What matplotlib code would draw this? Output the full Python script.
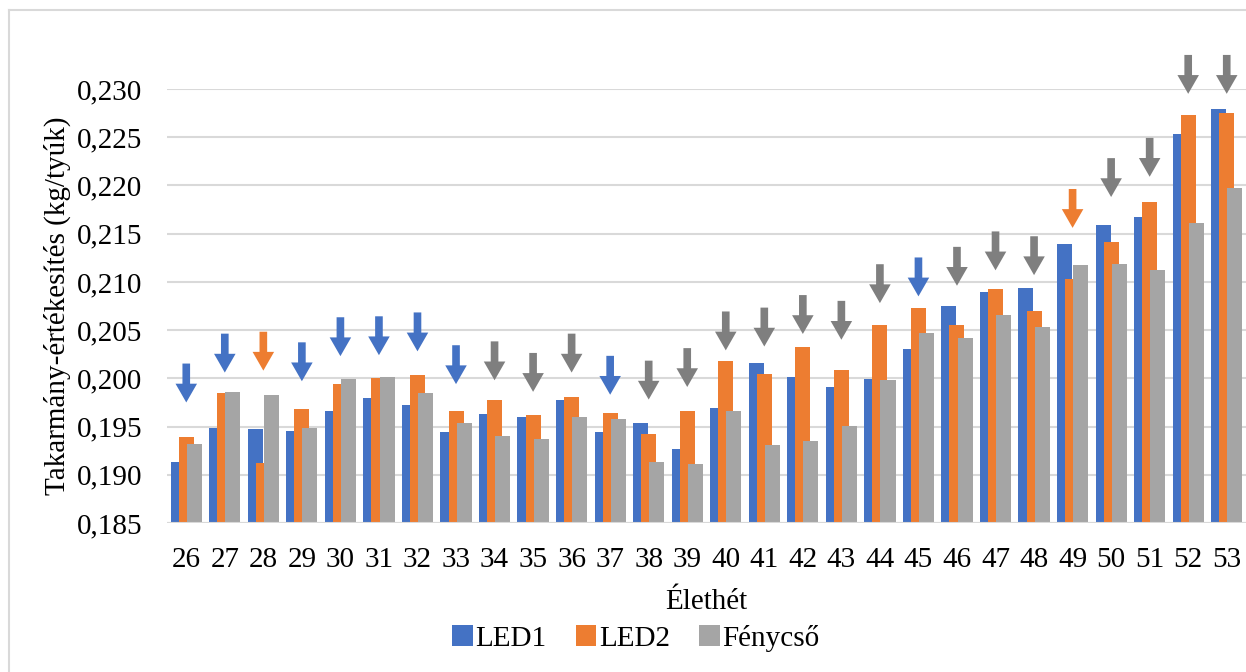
import numpy as np
import matplotlib
matplotlib.use('Agg')
import matplotlib.pyplot as plt
from matplotlib.ticker import FuncFormatter
from matplotlib.patches import Patch
from matplotlib import font_manager

# data
weeks = list(range(26, 54))
led1 = [0.1913, 0.1948, 0.1947, 0.1945, 0.1966, 0.1980, 0.1972, 0.1944, 0.1963, 0.1960,
        0.1978, 0.1944, 0.1954, 0.1927, 0.1969, 0.2016, 0.2001, 0.1991, 0.1999, 0.2030,
        0.2075, 0.2090, 0.2094, 0.2139, 0.2159, 0.2167, 0.2253, 0.2279]
led2 = [0.1939, 0.1985, 0.1912, 0.1968, 0.1994, 0.2000, 0.2003, 0.1966, 0.1978, 0.1962,
        0.1981, 0.1964, 0.1942, 0.1966, 0.2018, 0.2004, 0.2032, 0.2009, 0.2055, 0.2073,
        0.2055, 0.2093, 0.2070, 0.2103, 0.2141, 0.2183, 0.2273, 0.2275]
fenycso = [0.1932, 0.1986, 0.1983, 0.1948, 0.1999, 0.2001, 0.1985, 0.1954, 0.1940, 0.1937,
           0.1960, 0.1958, 0.1913, 0.1911, 0.1966, 0.1931, 0.1935, 0.1951, 0.1998, 0.2047,
           0.2042, 0.2066, 0.2053, 0.2118, 0.2119, 0.2112, 0.2161, 0.2197]
# where each marker arrow points to (tip height)
arrow_tip = [0.1975, 0.2006, 0.2008, 0.1997, 0.2023, 0.2024, 0.2028, 0.1994, 0.1998, 0.1986,
             0.2006, 0.1983, 0.1978, 0.1991, 0.2029, 0.2033, 0.2046, 0.2040, 0.2078, 0.2085,
             0.2096, 0.2112, 0.2107, 0.2156, 0.2188, 0.2209, 0.2295, 0.2295]

series_names = ['LED1', 'LED2', 'Fénycső']
bar_colors = ['#4472C4', '#ED7D31', '#A5A5A5']
arrow_colors = ['#4472C4', '#ED7D31', '#7F7F7F']

# serif font like the original (Times-like)
names = {f.name for f in font_manager.fontManager.ttflist}
serif = [n for n in ['Liberation Serif', 'Times New Roman', 'DejaVu Serif'] if n in names]
plt.rcParams['font.family'] = 'serif'
plt.rcParams['font.serif'] = serif
fs = 21

fig = plt.figure(figsize=(12.46, 6.72), dpi=100)
W, H = 1246, 672
ax = fig.add_axes([167 / W, (H - 523) / H, (1246 - 167) / W, (523 - 89) / H])

x = np.arange(len(weeks))
bw = 0.39
off = 0.21
for i, (vals, c) in enumerate(zip([led1, led2, fenycso], bar_colors)):
    ax.bar(x + (i - 1) * off, vals, width=bw, color=c, zorder=2 + i, label=series_names[i])

# arrow over each group, coloured by the lowest series
data = np.array([led1, led2, fenycso])
lowest = data.argmin(axis=0)
for xi, tip, k in zip(x, arrow_tip, lowest):
    ax.annotate('', xy=(xi, tip), xytext=(0, 28), textcoords='offset points',
                arrowprops=dict(width=5.5, headwidth=15.5, headlength=13.5, shrink=0,
                                facecolor=arrow_colors[k], edgecolor='none'),
                annotation_clip=False, zorder=6)

ax.set_ylim(0.185, 0.230)
ax.set_xlim(-0.5, len(weeks) - 0.5)
ax.set_yticks(np.arange(0.185, 0.2301, 0.005))
ax.yaxis.set_major_formatter(FuncFormatter(lambda v, p: f'{v:.3f}'.replace('.', ',')))
ax.set_xticks(x)
ax.set_xticklabels([str(w) for w in weeks])
ax.tick_params(length=0, labelsize=fs)
ax.tick_params(axis='x', pad=17)
ax.tick_params(axis='y', pad=18)
ax.grid(axis='y', color='#D9D9D9', linewidth=1.5, zorder=0)
ax.set_axisbelow(True)
ax.axhline(0.185, color='#D9D9D9', linewidth=1.5, zorder=7)
for s in ax.spines.values():
    s.set_visible(False)

ax.set_ylabel('Takarmány-értékesítés (kg/tyúk)', fontsize=fs, labelpad=4)
ax.set_xlabel('Élethét', fontsize=fs, labelpad=12)

handles = [Patch(facecolor=c, edgecolor='none') for c in bar_colors]
fig.legend(handles, series_names, loc='center', bbox_to_anchor=(636 / W, 1 - 638 / H),
           ncol=3, frameon=False, fontsize=fs, handlelength=0.7, handleheight=0.7,
           handletextpad=0.1, columnspacing=1.0)

# chart border (top and left visible)
fig.add_artist(plt.Line2D([9 / W, 9 / W], [0, 1 - 10 / H], color='#D9D9D9', linewidth=1.5))
fig.add_artist(plt.Line2D([9 / W, 1], [1 - 10 / H, 1 - 10 / H], color='#D9D9D9', linewidth=1.5))

fig.savefig('out.png', dpi=100)
